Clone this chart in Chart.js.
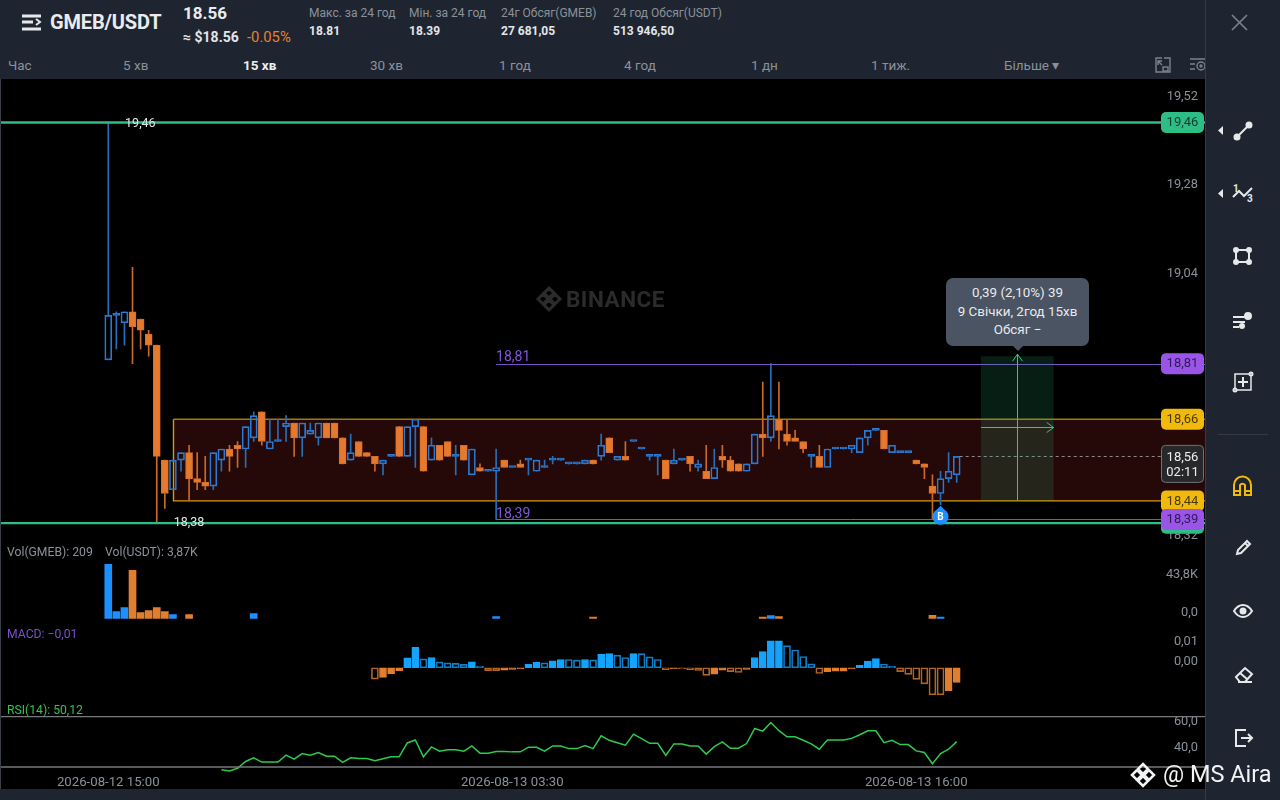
<!DOCTYPE html>
<html lang="uk">
<head>
<meta charset="utf-8">
<title>GMEB/USDT</title>
<script src="https://cdn.jsdelivr.net/npm/chart.js@4"></script>
<style>
  html, body { margin: 0; padding: 0; background: #1e2530; }
  body { width: 1280px; height: 800px; position: relative; overflow: hidden; font-family: Roboto, "Noto Sans", sans-serif; color: #8b919a; }
  #plot { position: absolute; left: 0; top: 79px; width: 1205px; height: 710px; background: #000; }
  #edge { position: absolute; left: 0; top: 79px; width: 1px; height: 710px; background: #3a3f47; }
  canvas { position: absolute; left: 0; }
  .t { position: absolute; white-space: nowrap; line-height: 1; }
  .tab { top: 59px; font-size: 13.5px; color: #8b919a; }
  .lab { top: 7px; font-size: 12px; color: #8b919a; }
  .val { top: 25px; font-size: 12px; font-weight: 700; color: #e3e5e8; }
  .ind { font-size: 12.2px; }
  #tip { position: absolute; left: 946px; top: 278px; width: 143px; height: 68px; background: #4a5462; border-radius: 7px; color: #e8eaed; font-size: 13.4px; text-align: center; line-height: 18.5px; padding-top: 6px; box-sizing: border-box; }
  #tip:after { content: ""; position: absolute; left: 67px; top: 68px; border: 5px solid transparent; border-top-color: #4a5462; }
  #side { position: absolute; left: 1205px; top: 0; width: 75px; height: 800px; border-left: 1px solid #343b46; box-sizing: border-box; }
  svg { position: absolute; overflow: visible; fill: none; stroke: #e6e8ea; stroke-width: 2; }
  svg text { fill: #e6e8ea; stroke: none; font-size: 10px; font-weight: 700; font-family: Roboto; }
</style>
</head>
<body>
<svg style="left:22px;top:14px" width="20" height="18"><path d="M0 2h19M0 8h11M0 15h19" stroke-width="3"/><path d="M14 5l4 3-4 3" stroke-width="2"/></svg>
<div class="t" style="left:50px;top:12px;font-size:20px;font-weight:700;color:#e9ebee;letter-spacing:-.15px">GMEB/USDT</div>
<div class="t" style="left:183px;top:5px;font-size:17px;font-weight:700;color:#e9ebee">18.56</div>
<div class="t" style="left:183px;top:30px;font-size:14px;font-weight:700;color:#e3e5e8">≈ $18.56</div>
<div class="t" style="left:247px;top:30px;font-size:14.8px;color:#e8802c">-0.05%</div>
<div class="t lab" style="left:309px">Макс. за 24 год</div><div class="t val" style="left:309px">18.81</div>
<div class="t lab" style="left:409px">Мін. за 24 год</div><div class="t val" style="left:409px">18.39</div>
<div class="t lab" style="left:501px">24г Обсяг(GMEB)</div><div class="t val" style="left:501px">27 681,05</div>
<div class="t lab" style="left:613px">24 год Обсяг(USDT)</div><div class="t val" style="left:613px">513 946,50</div>

<div class="t tab" style="left:8px">Час</div>
<div class="t tab" style="left:123px">5 хв</div>
<div class="t tab" style="left:243px;color:#eceef0;font-weight:700">15 хв</div>
<div class="t tab" style="left:370px">30 хв</div>
<div class="t tab" style="left:499px">1 год</div>
<div class="t tab" style="left:624px">4 год</div>
<div class="t tab" style="left:751px">1 дн</div>
<div class="t tab" style="left:871px">1 тиж.</div>
<div class="t tab" style="left:1004px">Більше ▾</div>
<svg style="left:1155px;top:58px;stroke:#7d838c;stroke-width:1.4" width="16" height="16"><path d="M7 0H1v14h14V0H9M3 3l4 4M3 7V3h4"/><rect x="8" y="9" width="5" height="4"/></svg>
<svg style="left:1190px;top:58px;stroke:#7d838c;stroke-width:1.4" width="16" height="16"><path d="M0 1h15M0 6h5M0 11h5"/><circle cx="11" cy="8" r="4"/><circle cx="11" cy="8" r="1"/></svg>
<svg style="left:1232px;top:15px;stroke:#7d838c;stroke-width:1.6" width="15" height="15"><path d="M0 0l15 15M15 0L0 15"/></svg>

<div id="plot">
  <canvas id="chart-main" width="1205" height="466" style="top:0"></canvas>
  <canvas id="chart-vol" width="1205" height="80" style="top:466px"></canvas>
  <canvas id="chart-macd" width="1205" height="91" style="top:546px"></canvas>
  <canvas id="chart-rsi" width="1205" height="79" style="top:631px"></canvas>
</div>
<div id="edge"></div>
<div class="t ind" style="left:7px;top:546px">Vol(GMEB): 209</div>
<div class="t ind" style="left:105px;top:546px">Vol(USDT): 3,87K</div>
<div class="t ind" style="left:7px;top:628px;color:#7a4fc9">MACD: −0,01</div>
<div class="t ind" style="left:7px;top:704px;color:#33c24d">RSI(14): 50,12</div>
<div class="t" style="left:566px;top:288px;font-size:22.5px;font-weight:700;color:#2b2b2b;letter-spacing:.5px">BINANCE</div>
<svg style="left:536px;top:286px;stroke:#2b2b2b;stroke-width:3" width="26" height="26"><path d="M13 2l5 5-5 5-5-5zM13 14l5 5-5 5-5-5zM2 13l5-5 5 5-5 5zM14 13l5-5 5 5-5 5z"/></svg>
<div id="tip">0,39 (2,10%) 39<br>9 Свічки, 2год 15хв<br>Обсяг −</div>

<div id="side"></div>
<svg style="left:1218px;top:126px;fill:#e6e8ea;stroke:none" width="6" height="9"><path d="M5 0v9L0 4.500z"/></svg>
<svg style="left:1234px;top:122px" width="18" height="18"><path d="M3 15L15 3"/><circle cx="3" cy="15" r="2.500" fill="#e6e8ea"/><circle cx="15" cy="3" r="2.500" fill="#e6e8ea"/></svg>
<svg style="left:1218px;top:189px;fill:#e6e8ea;stroke:none" width="6" height="9"><path d="M5 0v9L0 4.500z"/></svg>
<svg style="left:1233px;top:184px" width="20" height="20"><path d="M0 13L6 7l5 5 8-8"/><text x="0" y="8">1</text><text x="14" y="18">3</text></svg>
<svg style="left:1234px;top:248px" width="18" height="16"><rect x="2" y="2" width="13" height="12"/><circle cx="2" cy="2" r="2" fill="#e6e8ea"/><circle cx="15" cy="2" r="2" fill="#e6e8ea"/><circle cx="2" cy="14" r="2" fill="#e6e8ea"/><circle cx="15" cy="14" r="2" fill="#e6e8ea"/></svg>
<svg style="left:1233px;top:311px" width="20" height="18"><path d="M0 11h12M0 16h6M0 6h12"/><circle cx="15" cy="5" r="3" fill="#e6e8ea"/><circle cx="9" cy="15" r="2" fill="#e6e8ea"/></svg>
<svg style="left:1234px;top:373px" width="18" height="18"><rect x="1" y="1" width="16" height="16" stroke-width="1.500"/><path d="M9 4v10M4 9h10"/><circle cx="1" cy="17" r="1.500" fill="#1e2530"/><circle cx="17" cy="1" r="1.500" fill="#1e2530"/></svg>
<div style="position:absolute;left:1218px;top:434px;width:50px;height:1px;background:#343b46"></div>
<svg style="left:1233px;top:476px;stroke:#f0b90b" width="20" height="20"><path d="M1 19V9a8.500 8.500 0 0 1 17 0v10h-6V9a3 3 0 0 0-5 0v10zM1 15h6M12 15h6"/></svg>
<svg style="left:1236px;top:539px" width="16" height="16"><path d="M1 15l1-4L11 2l3 3-9 9zM9 4l3 3"/></svg>
<svg style="left:1233px;top:604px" width="20" height="14"><path d="M1 7c5-8 13-8 18 0-5 8-13 8-18 0z"/><circle cx="10" cy="7" r="2.500" fill="#e6e8ea"/></svg>
<svg style="left:1235px;top:667px" width="18" height="16"><path d="M1 10l9-9 7 6-7 8H5zM5 6l7 6M3 15h14"/></svg>
<svg style="left:1235px;top:729px" width="18" height="18"><path d="M11 1H1v16h10M6 9h11M13 5l4 4-4 4"/></svg>

<div class="t" style="left:1163px;top:763px;font-size:23.5px;color:#f2f3f4">@ MS Aira</div>
<svg style="left:1130px;top:762px;stroke:#f2f3f4;stroke-width:2.500" width="26" height="26"><path d="M13 2l5 5-5 5-5-5zM13 14l5 5-5 5-5-5zM2 13l5-5 5 5-5 5zM14 13l5-5 5 5-5 5z"/></svg>

<script>
// 15 min candles, index 0 = 2026-08-12 15:00
const opens = [
  18.82,18.94,18.92,18.95,18.93,18.89,18.86,18.55,18.47,18.55,
  18.57,18.50,18.49,18.48,18.55,18.58,18.59,18.58,18.61,18.68,
  18.58,18.60,18.64,18.65,18.61,18.62,18.61,18.65,18.65,18.61,
  18.55,18.60,18.57,18.56,18.54,18.56,18.64,18.56,18.64,18.64,
  18.55,18.59,18.60,18.56,18.59,18.51,18.53,18.52,18.52,18.55,
  18.53,18.54,18.55,18.52,18.53,18.55,18.55,18.54,18.54,18.54,
  18.55,18.56,18.61,18.55,18.56,18.60,18.58,18.56,18.56,18.55,
  18.54,18.55,18.56,18.53,18.52,18.50,18.56,18.55,18.54,18.52,
  18.54,18.62,18.61,18.66,18.62,18.61,18.60,18.56,18.56,18.53,
  18.58,18.58,18.58,18.57,18.61,18.63,18.63,18.57,18.57,18.57,
  18.55,18.54,18.48,18.46,18.50,18.51
];
const closes = [
  18.94,18.94,18.95,18.91,18.90,18.86,18.56,18.46,18.55,18.57,
  18.50,18.49,18.48,18.57,18.58,18.56,18.58,18.64,18.67,18.60,
  18.60,18.60,18.65,18.61,18.65,18.63,18.65,18.61,18.61,18.54,
  18.57,18.56,18.56,18.54,18.55,18.56,18.56,18.64,18.66,18.52,
  18.59,18.55,18.56,18.56,18.55,18.58,18.52,18.52,18.53,18.53,
  18.53,18.53,18.55,18.55,18.53,18.55,18.55,18.54,18.54,18.55,
  18.54,18.59,18.57,18.56,18.55,18.60,18.58,18.56,18.56,18.50,
  18.55,18.55,18.54,18.54,18.50,18.53,18.55,18.52,18.52,18.54,
  18.62,18.61,18.67,18.63,18.60,18.60,18.58,18.56,18.53,18.58,
  18.58,18.58,18.59,18.61,18.63,18.63,18.58,18.59,18.57,18.57,
  18.54,18.53,18.46,18.50,18.52,18.56
];
const highs = [
  19.46,18.95,18.95,19.07,18.93,18.90,18.86,18.55,18.55,18.57,
  18.59,18.57,18.56,18.57,18.58,18.59,18.60,18.64,18.68,18.68,
  18.66,18.66,18.67,18.65,18.65,18.65,18.65,18.65,18.65,18.61,
  18.62,18.60,18.57,18.56,18.55,18.56,18.64,18.64,18.66,18.64,
  18.61,18.59,18.60,18.59,18.59,18.58,18.54,18.52,18.58,18.55,
  18.53,18.55,18.55,18.55,18.55,18.56,18.55,18.54,18.54,18.55,
  18.55,18.62,18.61,18.56,18.60,18.60,18.58,18.56,18.56,18.55,
  18.58,18.55,18.56,18.55,18.59,18.58,18.59,18.56,18.54,18.54,
  18.62,18.76,18.81,18.76,18.66,18.63,18.60,18.56,18.59,18.58,
  18.58,18.58,18.59,18.61,18.63,18.63,18.63,18.59,18.57,18.57,
  18.55,18.54,18.51,18.52,18.57,18.56
];
const lows = [
  18.82,18.85,18.86,18.81,18.85,18.83,18.38,18.42,18.47,18.52,
  18.44,18.47,18.47,18.47,18.52,18.52,18.53,18.53,18.60,18.59,
  18.58,18.60,18.60,18.56,18.56,18.62,18.59,18.61,18.61,18.54,
  18.55,18.56,18.56,18.52,18.51,18.56,18.56,18.56,18.53,18.52,
  18.55,18.55,18.56,18.51,18.55,18.51,18.52,18.52,18.39,18.53,
  18.53,18.53,18.51,18.52,18.53,18.54,18.55,18.54,18.54,18.54,
  18.54,18.55,18.57,18.55,18.55,18.60,18.58,18.55,18.51,18.50,
  18.54,18.55,18.52,18.52,18.50,18.50,18.53,18.52,18.52,18.52,
  18.54,18.56,18.60,18.58,18.59,18.60,18.57,18.53,18.53,18.53,
  18.58,18.58,18.57,18.57,18.59,18.63,18.58,18.57,18.57,18.57,
  18.54,18.50,18.39,18.43,18.49,18.49
];
// volume in thousands of USDT
const volumes = [
  63.4,8.1,12.7,56.5,6.9,9.2,12.7,8.1,4.6,0,
  4.6,0,0,0,0,0,0,0,5.8,0,
  0,0,0,0,0,0,0,0,0,0,
  0,0,0,0,0,0,0,0,0,0,
  0,0,0,0,0,0,0,0,2.3,0,
  0,0,0,0,0,0,0,0,0,0,
  1.7,0,0,0,0,0,0,0,0,0,
  0,0,0,0,0,0,0,0,0,0,
  0,1.7,3.4,2.3,0,0,0,0,0,0,
  0,0,0,0,0,0,0,0,0,0,
  0,0,3.5,1.7,0,0
];
const macdStart = 33;
const macd = [
  -0.0058,-0.0049,-0.0030,-0.0015,0.0050,0.0104,0.0045,0.0052,0.0030,0.0025,
  0.0022,0.0017,0.0030,0.0009,-0.0015,-0.0015,-0.0012,-0.0009,-0.0005,0.0017,
  0.0029,0.0025,0.0035,0.0042,0.0042,0.0039,0.0042,0.0040,0.0069,0.0072,
  0.0064,0.0052,0.0072,0.0072,0.0055,0.0042,-0.0010,-0.0005,-0.0005,-0.0010,
  -0.0014,-0.0039,-0.0032,-0.0012,-0.0020,-0.0024,-0.0009,0.0052,0.0082,0.0136,
  0.0137,0.0112,0.0090,0.0057,0.0020,-0.0029,-0.0020,-0.0018,-0.0017,-0.0005,
  0.0012,0.0034,0.0047,0.0019,0.0007,-0.0020,-0.0034,-0.0059,-0.0082,-0.0137,
  -0.0137,-0.0117,-0.0074
];
const rsiStart = 14;
const rsi = [
  27.9,26.9,29.0,34.4,37.3,33.9,33.9,33.9,39.4,36.3,
  40.7,39.4,41.5,38.6,38.6,33.7,37.3,36.8,36.8,35.0,
  36.5,38.1,38.1,49.1,51.4,38.1,45.9,42.5,43.6,43.6,
  42.5,46.7,41.0,41.0,42.3,42.3,42.0,42.0,45.7,45.7,
  42.5,46.7,46.7,44.6,44.6,47.0,44.6,54.8,51.2,49.3,
  47.3,56.1,52.5,48.8,48.8,39.1,48.3,48.3,46.7,46.7,
  40.2,46.2,49.9,44.9,44.9,48.6,60.6,58.5,65.3,58.8,
  54.0,54.0,51.2,48.3,44.1,51.4,51.4,51.4,52.7,55.6,
  58.8,58.8,49.3,51.2,47.8,47.8,42.8,41.5,32.6,40.7,
  44.1,50.1
];
const rsiBands = [70, 30];

const priceTicks = [19.53, 19.293, 19.052, 18.82, 18.584, 18.347];
const priceTickLabels = ['19,52', '19,28', '19,04', '18,80', '18,56', '18,32'];
const volTicks = [43.8, 0];
const volTickLabels = ['43,8K', '0,0'];
const macdTicks = [0.01, 0];
const macdTickLabels = ['0,01', '0,00'];
const rsiTicks = [60, 40];
const rsiTickLabels = ['60,0', '40,0'];
const timeTicks = [0, 50, 100];
const timeTickLabels = ['2026-08-12 15:00', '2026-08-13 03:30', '2026-08-13 16:00'];

// drawings on the price chart
const rangeBox = { start: 8, top: 18.66, bottom: 18.44 };
const greenLevels = [19.46, 18.38];
const purpleLevels = [18.81, 18.39];
const purpleStart = 48;
const lastPrice = 18.56;
const measure = { start: 108, end: 117, top: 18.83, bottom: 18.44, mid: 18.64 };
const buyIndex = 103, buyPrice = 18.40;
const tagValues = [19.46, 18.81, 18.66, 18.38, 18.44, 18.39];
const tagTexts = ['19,46', '18,81', '18,66', '18,38', '18,44', '18,39'];

const BLUE = '#2b7bd6', ORANGE = '#e57a2e', GREEN = '#2ebd85', PURPLE = '#9a55e8', YELLOW = '#f0b90b';
const tagColors = [GREEN, PURPLE, YELLOW, GREEN, YELLOW, PURPLE];
const tagInk = ['#0d3d2c', '#2d1a55', '#4a3a08', '#0d3d2c', '#4a3a08', '#2d1a55'];
const FONT = 'Roboto, "Noto Sans", sans-serif';
const XMIN = -13.4, XMAX = 135.73;

Chart.defaults.animation = false;
Chart.defaults.devicePixelRatio = 1;
Chart.defaults.font.family = 'Roboto';

const up = i => closes[i] >= opens[i];
const bodyTop = i => Math.max(opens[i], closes[i]);
const bodyLow = i => Math.min(opens[i], closes[i]);

function xAxis() {
  return { type: 'linear', display: false, min: XMIN, max: XMAX, offset: false };
}

function yAxis(min, max, ticks, labels, labelOffset) {
  return {
    position: 'right', min, max,
    grid: { display: false, drawTicks: false }, border: { display: false },
    afterBuildTicks: s => { s.ticks = ticks.map(value => ({ value })); },
    afterFit: s => { s.width = 0; },
    ticks: {
      mirror: true, padding: -7, labelOffset, autoSkip: false, color: '#8b919a',
      font: { size: 12.8 }, callback: (v, i) => labels[i]
    }
  };
}

function baseOptions(y, x) {
  return {
    responsive: false,
    layout: { padding: 0 },
    plugins: { legend: { display: false }, tooltip: { enabled: false } },
    scales: { x: x || xAxis(), y }
  };
}

function roundTag(ctx, x, y, w, h, r, color) {
  ctx.fillStyle = color;
  ctx.beginPath();
  ctx.roundRect(x, y, w, h, r);
  ctx.fill();
}

const behind = {
  id: 'behind',
  beforeDatasetsDraw(chart) {
    const { ctx, scales: { x, y }, chartArea: a } = chart;
    const bx = Math.round(x.getPixelForValue(rangeBox.start)) + 0.5;
    const by = y.getPixelForValue(rangeBox.top);
    const by2 = y.getPixelForValue(rangeBox.bottom);
    ctx.save();
    ctx.fillStyle = '#250909';
    ctx.fillRect(bx, by, a.right - bx, by2 - by);
    ctx.strokeStyle = '#d89a0a';
    ctx.lineWidth = 1.4;
    ctx.beginPath();
    ctx.moveTo(a.right, by2); ctx.lineTo(bx, by2); ctx.lineTo(bx, by);
    ctx.stroke();
    ctx.strokeStyle = '#9c7c12';
    ctx.beginPath();
    ctx.moveTo(bx, by); ctx.lineTo(a.right, by);
    ctx.stroke();
    ctx.restore();
  }
};

const drawings = {
  id: 'drawings',
  afterDraw(chart) {
    const { ctx, scales: { x, y }, chartArea: a } = chart;
    ctx.save();
    // horizontal levels
    ctx.lineWidth = 2.4;
    ctx.strokeStyle = GREEN;
    greenLevels.forEach(v => {
      const py = y.getPixelForValue(v);
      ctx.beginPath(); ctx.moveTo(a.left, py); ctx.lineTo(a.right, py); ctx.stroke();
    });
    ctx.lineWidth = 1;
    ctx.strokeStyle = '#7a52c4';
    purpleLevels.forEach(v => {
      const py = Math.round(y.getPixelForValue(v)) + 0.5;
      ctx.beginPath(); ctx.moveTo(x.getPixelForValue(purpleStart), py); ctx.lineTo(a.right, py); ctx.stroke();
    });
    ctx.strokeStyle = '#8a8a8a';
    ctx.setLineDash([3, 3]);
    const lp = Math.round(y.getPixelForValue(lastPrice)) + 0.5;
    ctx.beginPath(); ctx.moveTo(x.getPixelForValue(105) + 3, lp); ctx.lineTo(a.right, lp); ctx.stroke();
    ctx.setLineDash([]);

    // measure tool
    const mx = x.getPixelForValue(measure.start), mx2 = x.getPixelForValue(measure.end);
    const my = y.getPixelForValue(measure.top), my2 = y.getPixelForValue(measure.bottom);
    const mc = Math.round((mx + mx2) / 2) + 0.5;
    const mm = Math.round(y.getPixelForValue(measure.mid)) + 0.5;
    ctx.fillStyle = 'rgba(46,189,133,0.16)';
    ctx.fillRect(mx, my, mx2 - mx, my2 - my);
    ctx.strokeStyle = '#35c48d';
    ctx.beginPath();
    ctx.moveTo(mc, my2); ctx.lineTo(mc, my - 2);
    ctx.moveTo(mc - 5, my + 5); ctx.lineTo(mc, my - 2); ctx.lineTo(mc + 5, my + 5);
    ctx.moveTo(mx, mm); ctx.lineTo(mx2, mm);
    ctx.moveTo(mx2 - 7, mm - 5); ctx.lineTo(mx2, mm); ctx.lineTo(mx2 - 7, mm + 5);
    ctx.stroke();

    // text on the levels
    ctx.textBaseline = 'middle';
    ctx.textAlign = 'left';
    ctx.font = '12.5px ' + FONT;
    ctx.fillStyle = '#e4e6e8';
    ctx.fillText('19,46', x.getPixelForValue(2.08), y.getPixelForValue(19.46) + 1);
    ctx.fillText('18,38', x.getPixelForValue(8.1), y.getPixelForValue(18.38));
    ctx.font = '14px ' + FONT;
    ctx.fillStyle = '#8255dc';
    ctx.fillText('18,81', x.getPixelForValue(purpleStart), y.getPixelForValue(18.81) - 6);
    ctx.fillText('18,39', x.getPixelForValue(purpleStart), y.getPixelForValue(18.39) - 5);

    // buy marker
    const bx = x.getPixelForValue(buyIndex), by = y.getPixelForValue(buyPrice);
    ctx.fillStyle = '#1e90ff';
    ctx.beginPath();
    ctx.arc(bx, by + 1, 8, 0, Math.PI * 2);
    ctx.moveTo(bx - 5, by - 5); ctx.lineTo(bx, by - 10); ctx.lineTo(bx + 5, by - 5);
    ctx.fill();
    ctx.font = 'bold 10px ' + FONT;
    ctx.fillStyle = '#fff';
    ctx.textAlign = 'center';
    ctx.fillText('B', bx, by + 1.5);

    // price tags
    ctx.font = '13px ' + FONT;
    const tw = 43, tx = a.right - tw - 1;
    const lt = y.getPixelForValue(lastPrice);
    ctx.fillStyle = '#272829';
    ctx.strokeStyle = '#6f7277';
    ctx.beginPath(); ctx.roundRect(tx + .5, lt - 11, tw - 1, 37, 4); ctx.fill(); ctx.stroke();
    ctx.fillStyle = '#eceef0';
    ctx.fillText('18,56', tx + tw / 2, lt + 1);
    ctx.fillText('02:11', tx + tw / 2, lt + 16);
    tagValues.forEach((v, i) => {
      const py = y.getPixelForValue(v);
      roundTag(ctx, tx, py - 10.5, tw, 21, 5, tagColors[i]);
      ctx.fillStyle = tagInk[i];
      ctx.fillText(tagTexts[i], tx + tw / 2, py + 0.5);
    });
    ctx.restore();
  }
};

// wicks stop at the body so that hollow candles stay hollow
function wick(i, a, b) { return { x: i, y: [a, b] }; }
const idx = opens.map((_, i) => i);
const wickColors = idx.map(i => up(i) ? '#256fb8' : '#c9692a');

new Chart(document.getElementById('chart-main'), {
  type: 'bar',
  plugins: [behind, drawings],
  data: {
    datasets: [
      { data: idx.map(i => wick(i, bodyTop(i), highs[i])), barThickness: 1, grouped: false, backgroundColor: wickColors },
      { data: idx.map(i => wick(i, lows[i], bodyLow(i))), barThickness: 1, grouped: false, backgroundColor: wickColors },
      {
        data: idx.map(i => ({ x: i, y: [opens[i], closes[i]] })),
        barThickness: 7, grouped: false, minBarLength: 2, borderWidth: 1, borderSkipped: false,
        backgroundColor: idx.map(i => up(i) && closes[i] !== opens[i] ? 'rgba(0,0,0,0)' : (up(i) ? BLUE : ORANGE)),
        borderColor: idx.map(i => up(i) ? BLUE : '#d86f2a')
      }
    ]
  },
  // chart area is 466 px tall, 372 px per 1.00 of price
  options: baseOptions(yAxis(18.3229, 19.5756, priceTicks, priceTickLabels, 0))
});

new Chart(document.getElementById('chart-vol'), {
  type: 'bar',
  data: {
    datasets: [{
      data: idx.filter(i => volumes[i] > 0).map(i => ({ x: i, y: volumes[i] })),
      barThickness: 7, grouped: false,
      backgroundColor: idx.filter(i => volumes[i] > 0).map(i => up(i) ? '#1e8fff' : '#e07f30')
    }]
  },
  options: baseOptions(yAxis(-6.9, 85.3, volTicks, volTickLabels, -6))
});

const macdHollow = macd.map((v, i) => i === 0 || v <= macd[i - 1]);
const macdColor = macd.map(v => v >= 0 ? '#14a4ff' : '#e07f30');
new Chart(document.getElementById('chart-macd'), {
  type: 'bar',
  data: {
    datasets: [{
      data: macd.map((v, i) => ({ x: macdStart + i, y: v })),
      barThickness: 7, grouped: false, borderWidth: 1, borderSkipped: false,
      borderColor: macd.map((v, i) => macdHollow[i] ? (v >= 0 ? '#0f80c8' : '#b5651f') : macdColor[i]),
      backgroundColor: macd.map((v, i) => macdHollow[i] ? 'rgba(0,0,0,0)' : macdColor[i])
    }]
  },
  options: baseOptions(yAxis(-0.02415, 0.02135, macdTicks, macdTickLabels, -6))
});

const rsiX = xAxis();
rsiX.display = true;
rsiX.grid = { display: false, drawTicks: false };
rsiX.border = { display: false };
rsiX.afterBuildTicks = s => { s.ticks = timeTicks.map(value => ({ value })); };
rsiX.afterFit = s => { s.height = 21; };
rsiX.ticks = {
  autoSkip: false, maxRotation: 0, padding: 7, color: '#8b919a', font: { size: 13.2 },
  callback: (v, i) => timeTickLabels[i]
};
new Chart(document.getElementById('chart-rsi'), {
  type: 'line',
  data: {
    datasets: [
      ...rsiBands.map(b => ({
        data: [{ x: XMIN, y: b }, { x: XMAX, y: b }],
        borderColor: '#77797c', borderWidth: 1.4, pointRadius: 0
      })),
      {
        data: rsi.map((v, i) => ({ x: rsiStart + i, y: v })),
        borderColor: '#2fc94e', borderWidth: 1.5, pointRadius: 0, tension: 0, clip: false
      }
    ]
  },
  options: baseOptions(yAxis(29.2, 74.7, rsiTicks, rsiTickLabels, -7), rsiX)
});
</script>
</body>
</html>
